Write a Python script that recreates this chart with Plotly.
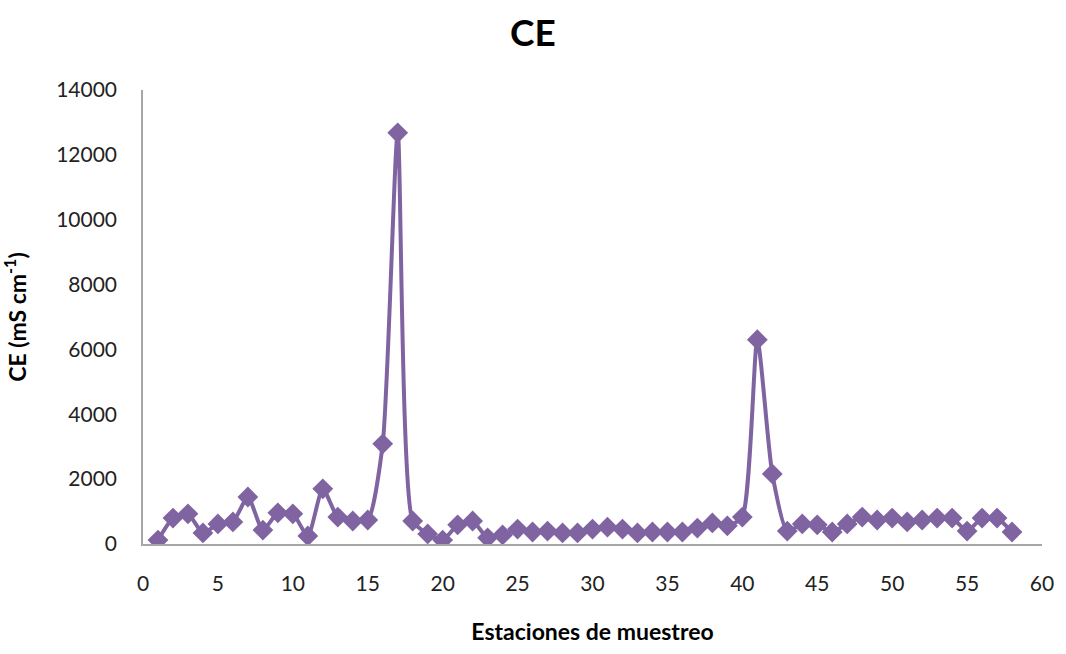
import plotly.graph_objects as go

estaciones = list(range(1, 59))
ce = [120, 800, 930, 340, 620, 680, 1450, 430, 960, 930,
      250, 1700, 830, 710, 740, 3090, 12680, 710, 310, 120,
      590, 710, 190, 280, 460, 370, 400, 340, 340, 460,
      520, 460, 340, 370, 370, 370, 490, 650, 560, 830,
      6300, 2160, 400, 620, 590, 370, 620, 830, 740, 800,
      680, 740, 800, 800, 400, 800, 800, 370]

x_ticks = list(range(0, 61, 5))
y_ticks = list(range(0, 14001, 2000))
y_tick_text = [str(v) for v in y_ticks]

color = "#8064A2"
font_family = "Lato, 'Open Sans', sans-serif"

fig = go.Figure()
fig.add_trace(go.Scatter(
    x=estaciones, y=ce, mode="lines+markers",
    line=dict(color=color, width=4, shape="spline", smoothing=0.6),
    marker=dict(symbol="diamond", size=16, color=color),
    showlegend=False,
))

fig.update_layout(
    width=1066, height=654,
    margin=dict(l=143, r=20, t=90, b=110),
    paper_bgcolor="white", plot_bgcolor="white",
    font=dict(family=font_family, color="#222222"),
    title=dict(text="<b>CE</b>", x=0.5, xanchor="center", y=0.95, yanchor="middle",
               font=dict(size=37, color="black", family=font_family)),
    xaxis=dict(range=[0, 60], tickvals=x_ticks, showgrid=False, zeroline=False,
               showline=True, linecolor="#A6A6A6", linewidth=1.5, ticks="",
               tickfont=dict(size=21, color="#222222"), ticklabelstandoff=20,
               title=dict(text="<b>Estaciones de muestreo</b>", standoff=30,
                          font=dict(size=23, color="black"))),
    yaxis=dict(range=[0, 14000], tickvals=y_ticks, ticktext=y_tick_text,
               showgrid=False, zeroline=False,
               showline=True, linecolor="#A6A6A6", linewidth=1.5, ticks="",
               tickfont=dict(size=21, color="#222222"), ticklabelstandoff=20,
               title=dict(text="<b>CE (mS cm<sup>-1</sup>)</b>", standoff=26,
                          font=dict(size=23, color="black"))),
)

fig.write_html("out.html")
